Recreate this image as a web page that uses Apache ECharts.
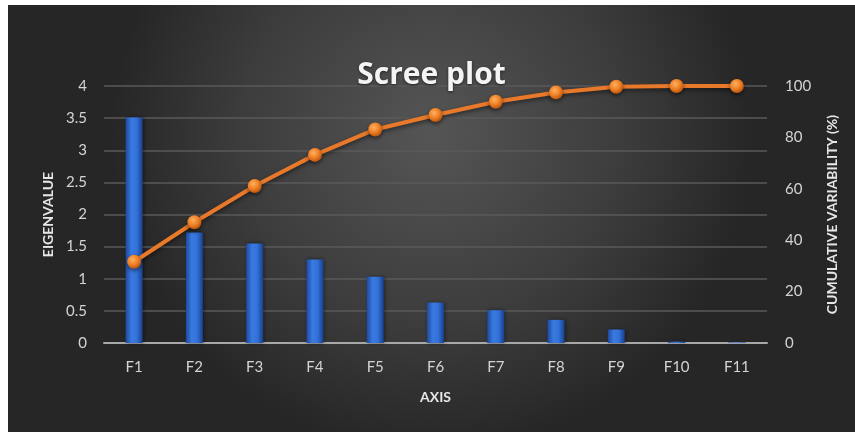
<!DOCTYPE html>
<html>
<head>
<meta charset="utf-8">
<script src="https://cdn.jsdelivr.net/npm/echarts@6/dist/echarts.min.js"></script>
<style>
  html, body { margin: 0; padding: 0; background: #ffffff; }
  #main-chart { position: absolute; left: 8px; top: 5px; width: 847px; height: 427px; }
</style>
</head>
<body>
<div id="main-chart"></div>
<script>
// Scree plot: eigenvalues (bars) and cumulative variability (line)
var axes = ['F1', 'F2', 'F3', 'F4', 'F5', 'F6', 'F7', 'F8', 'F9', 'F10', 'F11'];
var eigenvalues = [3.51, 1.72, 1.55, 1.30, 1.03, 0.63, 0.51, 0.36, 0.21, 0.02, 0.01];
var cumulative = [31.6, 47.0, 61.1, 73.2, 83.1, 88.7, 93.9, 97.5, 99.7, 100, 100];

var chart = echarts.init(document.getElementById('main-chart'));

var labelColor = '#d4d4d4';
var nameColor = '#e6e6e6';
var font = 'Lato';

var option = {
    backgroundColor: {
        type: 'radial', x: 0.5, y: 0.3, r: 0.75,
        colorStops: [
            { offset: 0, color: '#555555' },
            { offset: 0.6, color: '#3c3c3c' },
            { offset: 1, color: '#262626' }
        ]
    },
    title: {
        text: 'Scree plot',
        left: 'center',
        top: 50,
        textStyle: {
            color: '#f4f4f4',
            fontFamily: 'Open Sans',
            fontWeight: 'bold',
            fontSize: 30,
            textShadowColor: 'rgba(0,0,0,0.6)',
            textShadowBlur: 3,
            textShadowOffsetY: 1
        }
    },
    grid: { left: 96, right: 88, top: 81, bottom: 89 },
    xAxis: {
        type: 'category',
        data: axes,
        name: 'AXIS',
        nameLocation: 'middle',
        nameGap: 47,
        nameTextStyle: { color: nameColor, fontWeight: 'bold', fontSize: 14, fontFamily: font },
        axisLine: { lineStyle: { color: '#a8a8a8', width: 2 } },
        axisTick: { show: false },
        axisLabel: { color: labelColor, fontSize: 15, margin: 17, fontFamily: font }
    },
    yAxis: [{
        type: 'value',
        min: 0, max: 4, interval: 0.5,
        name: 'EIGENVALUE',
        nameLocation: 'middle',
        nameGap: 48,
        nameTextStyle: { color: nameColor, fontWeight: 'bold', fontSize: 14, fontFamily: font },
        axisLine: { show: false },
        axisTick: { show: false },
        axisLabel: { color: labelColor, fontSize: 15, margin: 17, fontFamily: font },
        splitLine: { lineStyle: { color: '#5a5a5a', width: 1.5 } }
    }, {
        type: 'value',
        min: 0, max: 100, interval: 20,
        name: 'CUMULATIVE VARIABILITY (%)',
        nameLocation: 'middle',
        nameGap: 58,
        nameRotate: 90,
        nameTextStyle: { color: nameColor, fontWeight: 'bold', fontSize: 14, fontFamily: font },
        axisLine: { show: false },
        axisTick: { show: false },
        axisLabel: { color: labelColor, fontSize: 15, margin: 18, fontFamily: font },
        splitLine: { show: false }
    }],
    series: [{
        name: 'Eigenvalue',
        type: 'bar',
        data: eigenvalues,
        barWidth: 17,
        itemStyle: {
            color: {
                type: 'linear', x: 0, y: 0, x2: 1, y2: 0,
                colorStops: [
                    { offset: 0, color: '#1d4aa0' },
                    { offset: 0.35, color: '#3a7ae0' },
                    { offset: 0.65, color: '#3272da' },
                    { offset: 1, color: '#1a3f8c' }
                ]
            },
            shadowColor: 'rgba(0,0,0,0.45)',
            shadowBlur: 4,
            shadowOffsetX: 1
        }
    }, {
        name: 'Cumulative variability',
        type: 'line',
        yAxisIndex: 1,
        data: cumulative,
        smooth: false,
        symbol: 'circle',
        symbolSize: 14,
        lineStyle: {
            color: '#e8792a',
            width: 4,
            shadowColor: 'rgba(0,0,0,0.5)',
            shadowBlur: 4,
            shadowOffsetY: 2
        },
        itemStyle: {
            color: {
                type: 'radial', x: 0.4, y: 0.35, r: 0.65,
                colorStops: [
                    { offset: 0, color: '#ffb060' },
                    { offset: 0.6, color: '#ec7d22' },
                    { offset: 1, color: '#b85610' }
                ]
            },
            shadowColor: 'rgba(0,0,0,0.5)',
            shadowBlur: 4,
            shadowOffsetY: 2
        },
        z: 3
    }]
};

chart.setOption(option);
</script>
</body>
</html>
